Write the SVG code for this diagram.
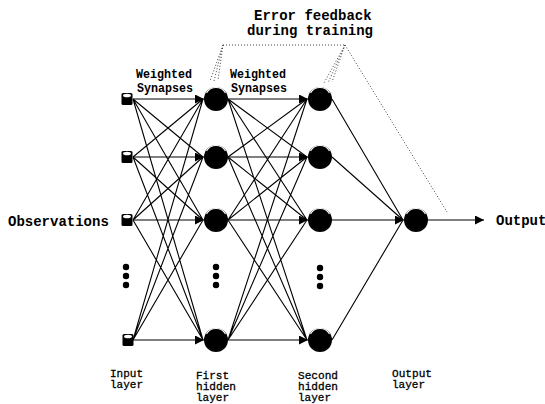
<svg xmlns="http://www.w3.org/2000/svg" width="545" height="404" viewBox="0 0 545 404">
  <style>
    .txt { font-family: "Liberation Mono", "DejaVu Sans Mono", monospace; fill: #000; }
    .big { font-size: 14px; font-weight: bold; }
    .mid { font-size: 13px; font-weight: bold; }
    .sm { font-size: 11.2px; stroke: #000; stroke-width: 0.3; }
    .wire { stroke: #000; stroke-width: 1.1; fill: none; }
    .fb { stroke: #444; stroke-width: 1; stroke-dasharray: 1 2; fill: none; }
    .dot { fill: #000; }
  </style>
  <defs>
    <marker id="tip" viewBox="0 0 10 10" refX="10" refY="5" markerWidth="10" markerHeight="9" markerUnits="userSpaceOnUse" orient="auto">
      <path d="M0,0 L10,5 L0,10 Z" fill="#000"/>
    </marker>
    <g id="neuron">
      <circle r="12" fill="#000"/>
      <path d="M-9.5,-6 A11,11 0 0 1 9.5,-6" stroke="#fff" stroke-width="1.1" fill="none"/>
    </g>
    <g id="inputCell">
      <rect x="-5.5" y="-6" width="11" height="12" rx="1.5" fill="#000"/>
      <ellipse cx="0" cy="-3.5" rx="4" ry="1.8" fill="#fff"/>
    </g>
  </defs>

  <!-- connectors -->
  <g id="connectors">
    <!-- input layer to first hidden layer -->
    <path class="wire" d="M133,99 L203,157 M133,99 L203,220 M133,99 L203,340
                          M133,157 L203,99 M133,157 L203,220 M133,157 L203,340
                          M133,220 L203,99 M133,220 L203,157 M133,220 L203,340
                          M133,340 L203,99 M133,340 L203,157 M133,340 L203,220"/>
    <line class="wire" x1="133" y1="99" x2="204" y2="99" marker-end="url(#tip)"/>
    <line class="wire" x1="133" y1="157" x2="204" y2="157" marker-end="url(#tip)"/>
    <line class="wire" x1="133" y1="220" x2="204" y2="220" marker-end="url(#tip)"/>
    <line class="wire" x1="133" y1="340" x2="204" y2="340" marker-end="url(#tip)"/>
    <!-- first hidden layer to second hidden layer -->
    <path class="wire" d="M228,99 L307,157 M228,99 L307,220 M228,99 L307,340
                          M228,157 L307,99 M228,157 L307,220 M228,157 L307,340
                          M228,220 L307,99 M228,220 L307,157 M228,220 L307,340
                          M228,340 L307,99 M228,340 L307,157 M228,340 L307,220"/>
    <line class="wire" x1="228" y1="99" x2="308" y2="99" marker-end="url(#tip)"/>
    <line class="wire" x1="228" y1="157" x2="308" y2="157" marker-end="url(#tip)"/>
    <line class="wire" x1="228" y1="220" x2="308" y2="220" marker-end="url(#tip)"/>
    <line class="wire" x1="228" y1="340" x2="308" y2="340" marker-end="url(#tip)"/>
    <!-- second hidden layer to output layer -->
    <path class="wire" d="M332,99 L403,220 M332,157 L403,220 M332,340 L403,220"/>
    <line class="wire" x1="332" y1="220" x2="404" y2="220" marker-end="url(#tip)"/>
    <!-- network output -->
    <line class="wire" x1="428" y1="220" x2="484" y2="220" marker-end="url(#tip)"/>
    <!-- error feedback path -->
    <path class="fb" d="M223,45 L345,45 M345,45 L447,212"/>
    <path class="fb" d="M223,45 L210,81 M223,45 L214,81 M223,45 L218,80"/>
    <path class="fb" d="M345,45 L324,83 M345,45 L328,83 M345,45 L332,82"/>
  </g>

  <!-- input layer -->
  <g id="input-layer">
    <use href="#inputCell" x="127" y="99"/>
    <use href="#inputCell" x="127" y="157"/>
    <use href="#inputCell" x="127" y="220"/>
    <use href="#inputCell" x="128" y="340"/>
    <circle class="dot" cx="126" cy="267" r="3.2"/>
    <circle class="dot" cx="126" cy="276" r="3.2"/>
    <circle class="dot" cx="126" cy="285" r="3.2"/>
  </g>

  <!-- first hidden layer -->
  <g id="hidden-layer-1">
    <use href="#neuron" x="216" y="99"/>
    <use href="#neuron" x="216" y="157"/>
    <use href="#neuron" x="216" y="220"/>
    <use href="#neuron" x="216" y="340"/>
    <circle class="dot" cx="216" cy="267" r="3.2"/>
    <circle class="dot" cx="216" cy="276" r="3.2"/>
    <circle class="dot" cx="216" cy="285" r="3.2"/>
  </g>

  <!-- second hidden layer -->
  <g id="hidden-layer-2">
    <use href="#neuron" x="320" y="99"/>
    <use href="#neuron" x="320" y="157"/>
    <use href="#neuron" x="320" y="220"/>
    <use href="#neuron" x="320" y="340"/>
    <circle class="dot" cx="320" cy="268" r="3.2"/>
    <circle class="dot" cx="320" cy="277" r="3.2"/>
    <circle class="dot" cx="320" cy="286" r="3.2"/>
  </g>

  <!-- output layer -->
  <g id="output-layer">
    <use href="#neuron" x="416" y="220"/>
  </g>

  <!-- labels -->
  <g id="labels">
    <text class="txt big" x="8" y="226">Observations</text>
    <text class="txt big" x="496" y="225">Output</text>
    <text class="txt big" x="254" y="20">Error feedback</text>
    <text class="txt big" x="247" y="35">during training</text>
    <text class="txt mid" x="136" y="78" textLength="56" lengthAdjust="spacingAndGlyphs">Weighted</text>
    <text class="txt mid" x="137" y="92" textLength="56" lengthAdjust="spacingAndGlyphs">Synapses</text>
    <text class="txt mid" x="230" y="78" textLength="56" lengthAdjust="spacingAndGlyphs">Weighted</text>
    <text class="txt mid" x="231" y="92" textLength="56" lengthAdjust="spacingAndGlyphs">Synapses</text>
    <text class="txt sm" x="110" y="377" textLength="33" lengthAdjust="spacingAndGlyphs">Input</text>
    <text class="txt sm" x="110" y="388" textLength="33" lengthAdjust="spacingAndGlyphs">layer</text>
    <text class="txt sm" x="196" y="379" textLength="33" lengthAdjust="spacingAndGlyphs">First</text>
    <text class="txt sm" x="196" y="390" textLength="40" lengthAdjust="spacingAndGlyphs">hidden</text>
    <text class="txt sm" x="196" y="401" textLength="33" lengthAdjust="spacingAndGlyphs">layer</text>
    <text class="txt sm" x="298" y="379" textLength="40" lengthAdjust="spacingAndGlyphs">Second</text>
    <text class="txt sm" x="298" y="390" textLength="40" lengthAdjust="spacingAndGlyphs">hidden</text>
    <text class="txt sm" x="298" y="401" textLength="33" lengthAdjust="spacingAndGlyphs">layer</text>
    <text class="txt sm" x="392" y="377" textLength="40" lengthAdjust="spacingAndGlyphs">Output</text>
    <text class="txt sm" x="392" y="388" textLength="33" lengthAdjust="spacingAndGlyphs">layer</text>
  </g>
</svg>
